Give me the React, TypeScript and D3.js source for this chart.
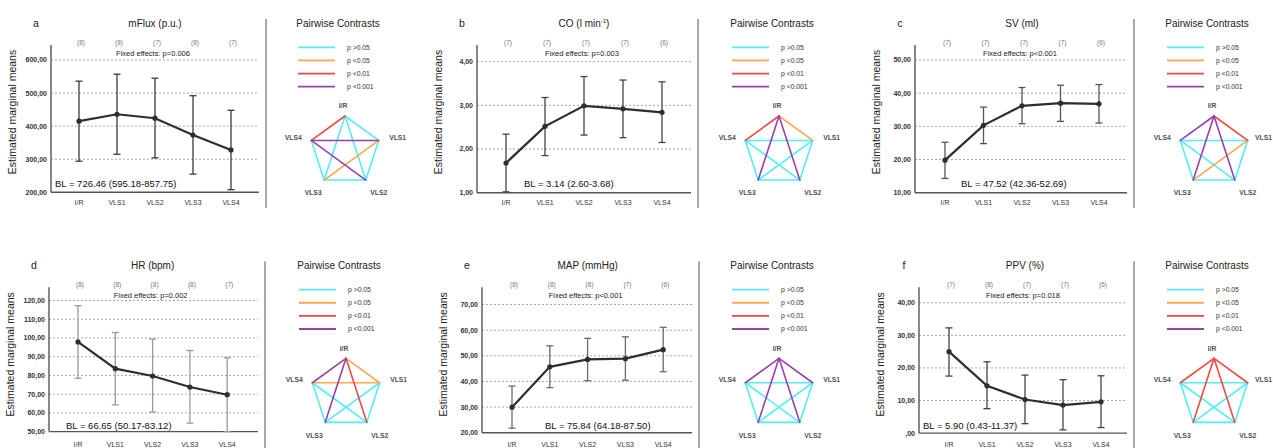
import React, { useRef, useEffect } from 'react';
import * as d3 from 'd3';

// ---------- data ----------
const stages = ['I/R', 'VLS1', 'VLS2', 'VLS3', 'VLS4'];

const mfluxMean = [415, 436, 424, 373, 328];
const mfluxLow = [294, 315, 304, 255, 208];
const mfluxHigh = [536, 557, 545, 492, 448];
const mfluxN = [8, 8, 7, 8, 7];
const mfluxTicks = [200, 300, 400, 500, 600];

const coMean = [1.68, 2.52, 2.99, 2.92, 2.84];
const coLow = [1.02, 1.85, 2.32, 2.26, 2.15];
const coHigh = [2.34, 3.18, 3.66, 3.58, 3.54];
const coN = [7, 7, 7, 7, 6];
const coTicks = [1, 2, 3, 4];

const svMean = [19.8, 30.3, 36.2, 37.0, 36.8];
const svLow = [14.3, 24.8, 30.8, 31.5, 31.0];
const svHigh = [25.2, 35.8, 41.7, 42.4, 42.6];
const svN = [7, 7, 7, 7, 6];
const svTicks = [10, 20, 30, 40, 50];

const hrMean = [97.9, 83.6, 79.7, 73.8, 69.7];
const hrLow = [78.5, 64.3, 60.4, 54.5, 50.0];
const hrHigh = [117.2, 102.9, 99.4, 93.3, 89.4];
const hrN = [8, 8, 8, 8, 7];
const hrTicks = [50, 60, 70, 80, 90, 100, 110, 120];

const mapMean = [30.0, 45.7, 48.6, 48.9, 52.4];
const mapLow = [21.8, 37.6, 40.3, 40.5, 43.8];
const mapHigh = [38.2, 53.9, 56.8, 57.4, 61.1];
const mapN = [8, 8, 8, 7, 6];
const mapTicks = [20, 30, 40, 50, 60, 70];

const ppvMean = [25.0, 14.5, 10.3, 8.6, 9.6];
const ppvLow = [17.5, 7.5, 2.9, 1.0, 1.7];
const ppvHigh = [32.3, 21.9, 17.8, 16.4, 17.6];
const ppvN = [7, 8, 7, 7, 6];
const ppvTicks = [0, 10, 20, 30, 40];

// pairwise contrasts: 0 p>0.05, 1 p<0.05, 2 p<0.01, 3 p<0.001
const pLabels = ['p >0.05', 'p <0.05', 'p <0.01', 'p <0.001'];
const pColors = ['#52eef6', '#fba84e', '#f5493f', '#9a3fac'];
const pairs = [
  ['I/R', 'VLS1'], ['I/R', 'VLS2'], ['I/R', 'VLS3'], ['I/R', 'VLS4'],
  ['VLS1', 'VLS2'], ['VLS1', 'VLS3'], ['VLS1', 'VLS4'],
  ['VLS2', 'VLS3'], ['VLS2', 'VLS4'], ['VLS3', 'VLS4'],
];
const mfluxContrast = [0, 0, 0, 2, 0, 1, 3, 0, 3, 0];
const coContrast = [1, 3, 3, 2, 0, 0, 0, 0, 0, 0];
const svContrast = [2, 3, 3, 3, 0, 1, 0, 0, 0, 0];
const hrContrast = [1, 2, 3, 3, 0, 0, 1, 0, 0, 0];
const mapContrast = [3, 3, 3, 3, 0, 0, 0, 0, 0, 0];
const ppvContrast = [2, 2, 2, 2, 0, 0, 0, 0, 0, 0];

const panels = [
  { letter: 'a', title: 'mFlux (p.u.)', fixed: 'Fixed effects: p=0.006', bl: 'BL = 726.46 (595.18-857.75)',
    mean: mfluxMean, low: mfluxLow, high: mfluxHigh, n: mfluxN, ticks: mfluxTicks, contrast: mfluxContrast,
    row: 0, axisX: 51, firstX: 79, step: 38, right: 259, sepX: 266, pentX: 345, yTop: 60, yBot: 192.3, blX: 55, errColor: '#3a3a3a' },
  { letter: 'b', title: 'CO (l min', sup: '-1', fixed: 'Fixed effects: p=0.003', bl: 'BL = 3.14 (2.60-3.68)',
    mean: coMean, low: coLow, high: coHigh, n: coN, ticks: coTicks, contrast: coContrast,
    row: 0, axisX: 477, firstX: 506, step: 39, right: 691, sepX: 698, pentX: 779, yTop: 61.7, yBot: 192.7, blX: 524, errColor: '#444' },
  { letter: 'c', title: 'SV (ml)', fixed: 'Fixed effects: p<0.001', bl: 'BL = 47.52 (42.36-52.69)',
    mean: svMean, low: svLow, high: svHigh, n: svN, ticks: svTicks, contrast: svContrast,
    row: 0, axisX: 915, firstX: 945, step: 38.5, right: 1127, sepX: 1134, pentX: 1214, yTop: 60, yBot: 192.7, blX: 961, errColor: '#555' },
  { letter: 'd', title: 'HR (bpm)', fixed: 'Fixed effects: p=0.002', bl: 'BL = 66.65 (50.17-83.12)',
    mean: hrMean, low: hrLow, high: hrHigh, n: hrN, ticks: hrTicks, contrast: hrContrast,
    row: 1, axisX: 49, firstX: 78, step: 37.3, right: 258, sepX: 265, pentX: 346, yTop: 58.2, yBot: 189.3, blX: 66, errColor: '#9a9a9a' },
  { letter: 'e', title: 'MAP (mmHg)', fixed: 'Fixed effects: p<0.001', bl: 'BL = 75.84 (64.18-87.50)',
    mean: mapMean, low: mapLow, high: mapHigh, n: mapN, ticks: mapTicks, contrast: mapContrast,
    row: 1, axisX: 482, firstX: 512, step: 37.8, right: 692, sepX: 699, pentX: 779, yTop: 62.2, yBot: 190.5, blX: 545, errColor: '#6a6a6a' },
  { letter: 'f', title: 'PPV (%)', fixed: 'Fixed effects: p=0.018', bl: 'BL = 5.90 (0.43-11.37)',
    mean: ppvMean, low: ppvLow, high: ppvHigh, n: ppvN, ticks: ppvTicks, contrast: ppvContrast,
    row: 1, axisX: 919, firstX: 949, step: 38, right: 1127, sepX: 1134, pentX: 1214, yTop: 60.5, yBot: 190.8, blX: 923, errColor: '#444' },
];

const W = 1273;
const H = 448;
const rowOffset = [0, 242.3];
const FONT = '"Liberation Sans", Arial, sans-serif';

const fmtTick = (v: number) => {
  const s = d3.format('.2f')(v).replace('.', ',');
  return s.startsWith('0,') ? s.slice(1) : s;
};

export default function App() {
  const ref = useRef<SVGSVGElement>(null);

  useEffect(() => {
    const svg = d3.select(ref.current);
    svg.selectAll('*').remove();
    svg.append('rect').attr('width', W).attr('height', H).attr('fill', '#fff');

    panels.forEach((p) => {
      const g = svg.append('g')
        .attr('transform', `translate(0,${rowOffset[p.row]})`)
        .style('font-family', FONT);

      const x = d3.scalePoint<string>().domain(stages).range([p.firstX, p.firstX + 4 * p.step]);
      const y = d3.scaleLinear()
        .domain([p.ticks[0], p.ticks[p.ticks.length - 1]])
        .range([p.yBot, p.yTop]);
      const mid = x('VLS2') as number;

      //------- grid lines -------//
      g.append('g').selectAll('line')
        .data(p.ticks.slice(1))
        .join('line')
        .attr('x1', p.axisX).attr('x2', p.right)
        .attr('y1', (d) => y(d)).attr('y2', (d) => y(d))
        .attr('stroke', '#a8a8a8').attr('stroke-width', 1)
        .attr('stroke-dasharray', '2,2');

      //------- axes -------//
      g.append('line')
        .attr('x1', p.axisX).attr('x2', p.axisX).attr('y1', 45).attr('y2', p.yBot)
        .attr('stroke', '#555').attr('stroke-width', 1.4);
      g.append('line')
        .attr('x1', p.axisX).attr('x2', p.right).attr('y1', p.yBot).attr('y2', p.yBot)
        .attr('stroke', '#555').attr('stroke-width', 1.4);

      g.append('g').selectAll('text')
        .data(p.ticks)
        .join('text')
        .attr('x', p.axisX - 4).attr('y', (d) => y(d)).attr('dy', '0.35em')
        .attr('text-anchor', 'end')
        .attr('fill', '#333').style('font-size', '7px').style('font-weight', 'bold')
        .text((d) => fmtTick(d));

      g.append('g').selectAll('text')
        .data(stages)
        .join('text')
        .attr('x', (d) => x(d) as number).attr('y', 205)
        .attr('text-anchor', 'middle')
        .attr('fill', '#333').style('font-size', '7px')
        .text((d) => d);

      // n per stage
      g.append('g').selectAll('text')
        .data(p.n)
        .join('text')
        .attr('x', (d, i) => (x(stages[i]) as number) + 2).attr('y', 44.5)
        .attr('text-anchor', 'middle')
        .attr('fill', '#777').style('font-size', '6.5px')
        .text((d) => `(${d})`);

      g.append('text')
        .attr('x', mid - 2).attr('y', 56)
        .attr('text-anchor', 'middle')
        .attr('fill', '#222').style('font-size', '7.5px')
        .text(p.fixed);

      //------- error bars -------//
      const eb = g.append('g').attr('stroke', p.errColor).attr('stroke-width', 1.3);
      stages.forEach((s, i) => {
        const cx = x(s) as number;
        eb.append('line').attr('x1', cx).attr('x2', cx).attr('y1', y(p.low[i])).attr('y2', y(p.high[i]));
        eb.append('line').attr('x1', cx - 3.5).attr('x2', cx + 3.5).attr('y1', y(p.low[i])).attr('y2', y(p.low[i]));
        eb.append('line').attr('x1', cx - 3.5).attr('x2', cx + 3.5).attr('y1', y(p.high[i])).attr('y2', y(p.high[i]));
      });

      //------- mean line -------//
      const line = d3.line<number>()
        .x((d, i) => x(stages[i]) as number)
        .y((d) => y(d));
      g.append('path')
        .attr('d', line(p.mean))
        .attr('fill', 'none').attr('stroke', '#2e2e2e').attr('stroke-width', 2.2);
      g.append('g').selectAll('circle')
        .data(p.mean)
        .join('circle')
        .attr('cx', (d, i) => x(stages[i]) as number).attr('cy', (d) => y(d))
        .attr('r', 2.6).attr('fill', '#2e2e2e');

      g.append('text')
        .attr('x', p.blX).attr('y', 186.5)
        .attr('fill', '#111').style('font-size', '9.5px')
        .text(p.bl);

      //------- titles -------//
      g.append('text')
        .attr('transform', `translate(${p.axisX - 35},112) rotate(-90)`)
        .attr('text-anchor', 'middle')
        .attr('fill', '#222').style('font-size', '10.5px')
        .text('Estimated marginal means');

      g.append('text')
        .attr('x', p.axisX - 15).attr('y', 26.5)
        .attr('text-anchor', 'middle')
        .attr('fill', '#222').style('font-size', '10.5px')
        .text(p.letter);

      const t = g.append('text')
        .attr('x', mid).attr('y', 26.5)
        .attr('text-anchor', 'middle')
        .attr('fill', '#222').style('font-size', '10px')
        .text(p.title);
      if (p.sup) {
        t.append('tspan').attr('dy', -4).style('font-size', '6px').text(p.sup);
        t.append('tspan').attr('dy', 4).text(')');
      }

      //------- separator -------//
      g.append('line')
        .attr('x1', p.sepX).attr('x2', p.sepX).attr('y1', 19).attr('y2', 208)
        .attr('stroke', '#a0a0a0').attr('stroke-width', 1.8);

      //------- pairwise contrasts -------//
      const cx = p.pentX;
      g.append('text')
        .attr('x', cx - 7).attr('y', 26.5)
        .attr('text-anchor', 'middle')
        .attr('fill', '#222').style('font-size', '10px')
        .text('Pairwise Contrasts');

      const ly = d3.scaleLinear().domain([0, 3]).range([47.3, 86.7]);
      const leg = g.append('g').selectAll('g')
        .data(pLabels)
        .join('g');
      leg.append('line')
        .attr('x1', cx - 47).attr('x2', cx - 10)
        .attr('y1', (d, i) => ly(i)).attr('y2', (d, i) => ly(i))
        .attr('stroke', (d, i) => pColors[i]).attr('stroke-width', 1.8);
      leg.append('text')
        .attr('x', cx + 2).attr('y', (d, i) => ly(i)).attr('dy', '0.35em')
        .attr('fill', '#333').style('font-size', '6.8px')
        .text((d) => d);

      const r = 35.4;
      const cy = 151.4;
      const ang = d3.scaleLinear().domain([0, 5]).range([-Math.PI / 2, 1.5 * Math.PI]);
      const vx = (s: string) => cx + r * Math.cos(ang(stages.indexOf(s)));
      const vy = (s: string) => cy + r * Math.sin(ang(stages.indexOf(s)));

      const edges = pairs.map((pr, i) => ({ a: pr[0], b: pr[1], lvl: p.contrast[i] }))
        .sort((m, n) => m.lvl - n.lvl);
      g.append('g').selectAll('line')
        .data(edges)
        .join('line')
        .attr('x1', (d) => vx(d.a)).attr('y1', (d) => vy(d.a))
        .attr('x2', (d) => vx(d.b)).attr('y2', (d) => vy(d.b))
        .attr('stroke', (d) => pColors[d.lvl])
        .attr('stroke-width', 1.6)
        .attr('stroke-linecap', 'round');

      // vertex labels; keep the rightmost one inside the picture
      const labelOff = [[-2, -10], [19, -3], [13, 13], [-11, 13], [-18, -3]];
      g.append('g').selectAll('text')
        .data(stages)
        .join('text')
        .attr('x', (d, i) => Math.min(vx(d) + labelOff[i][0], W - 9.5))
        .attr('y', (d, i) => vy(d) + labelOff[i][1])
        .attr('dy', '0.35em')
        .attr('text-anchor', 'middle')
        .attr('fill', '#505050').style('font-size', '6.8px').style('font-weight', 'bold')
        .text((d) => d);
    });
  }, []);

  return (
    <svg
      ref={ref}
      width={W}
      height={H}
      style={{ position: 'absolute', left: 0, top: 0, display: 'block' }}
    />
  );
}
